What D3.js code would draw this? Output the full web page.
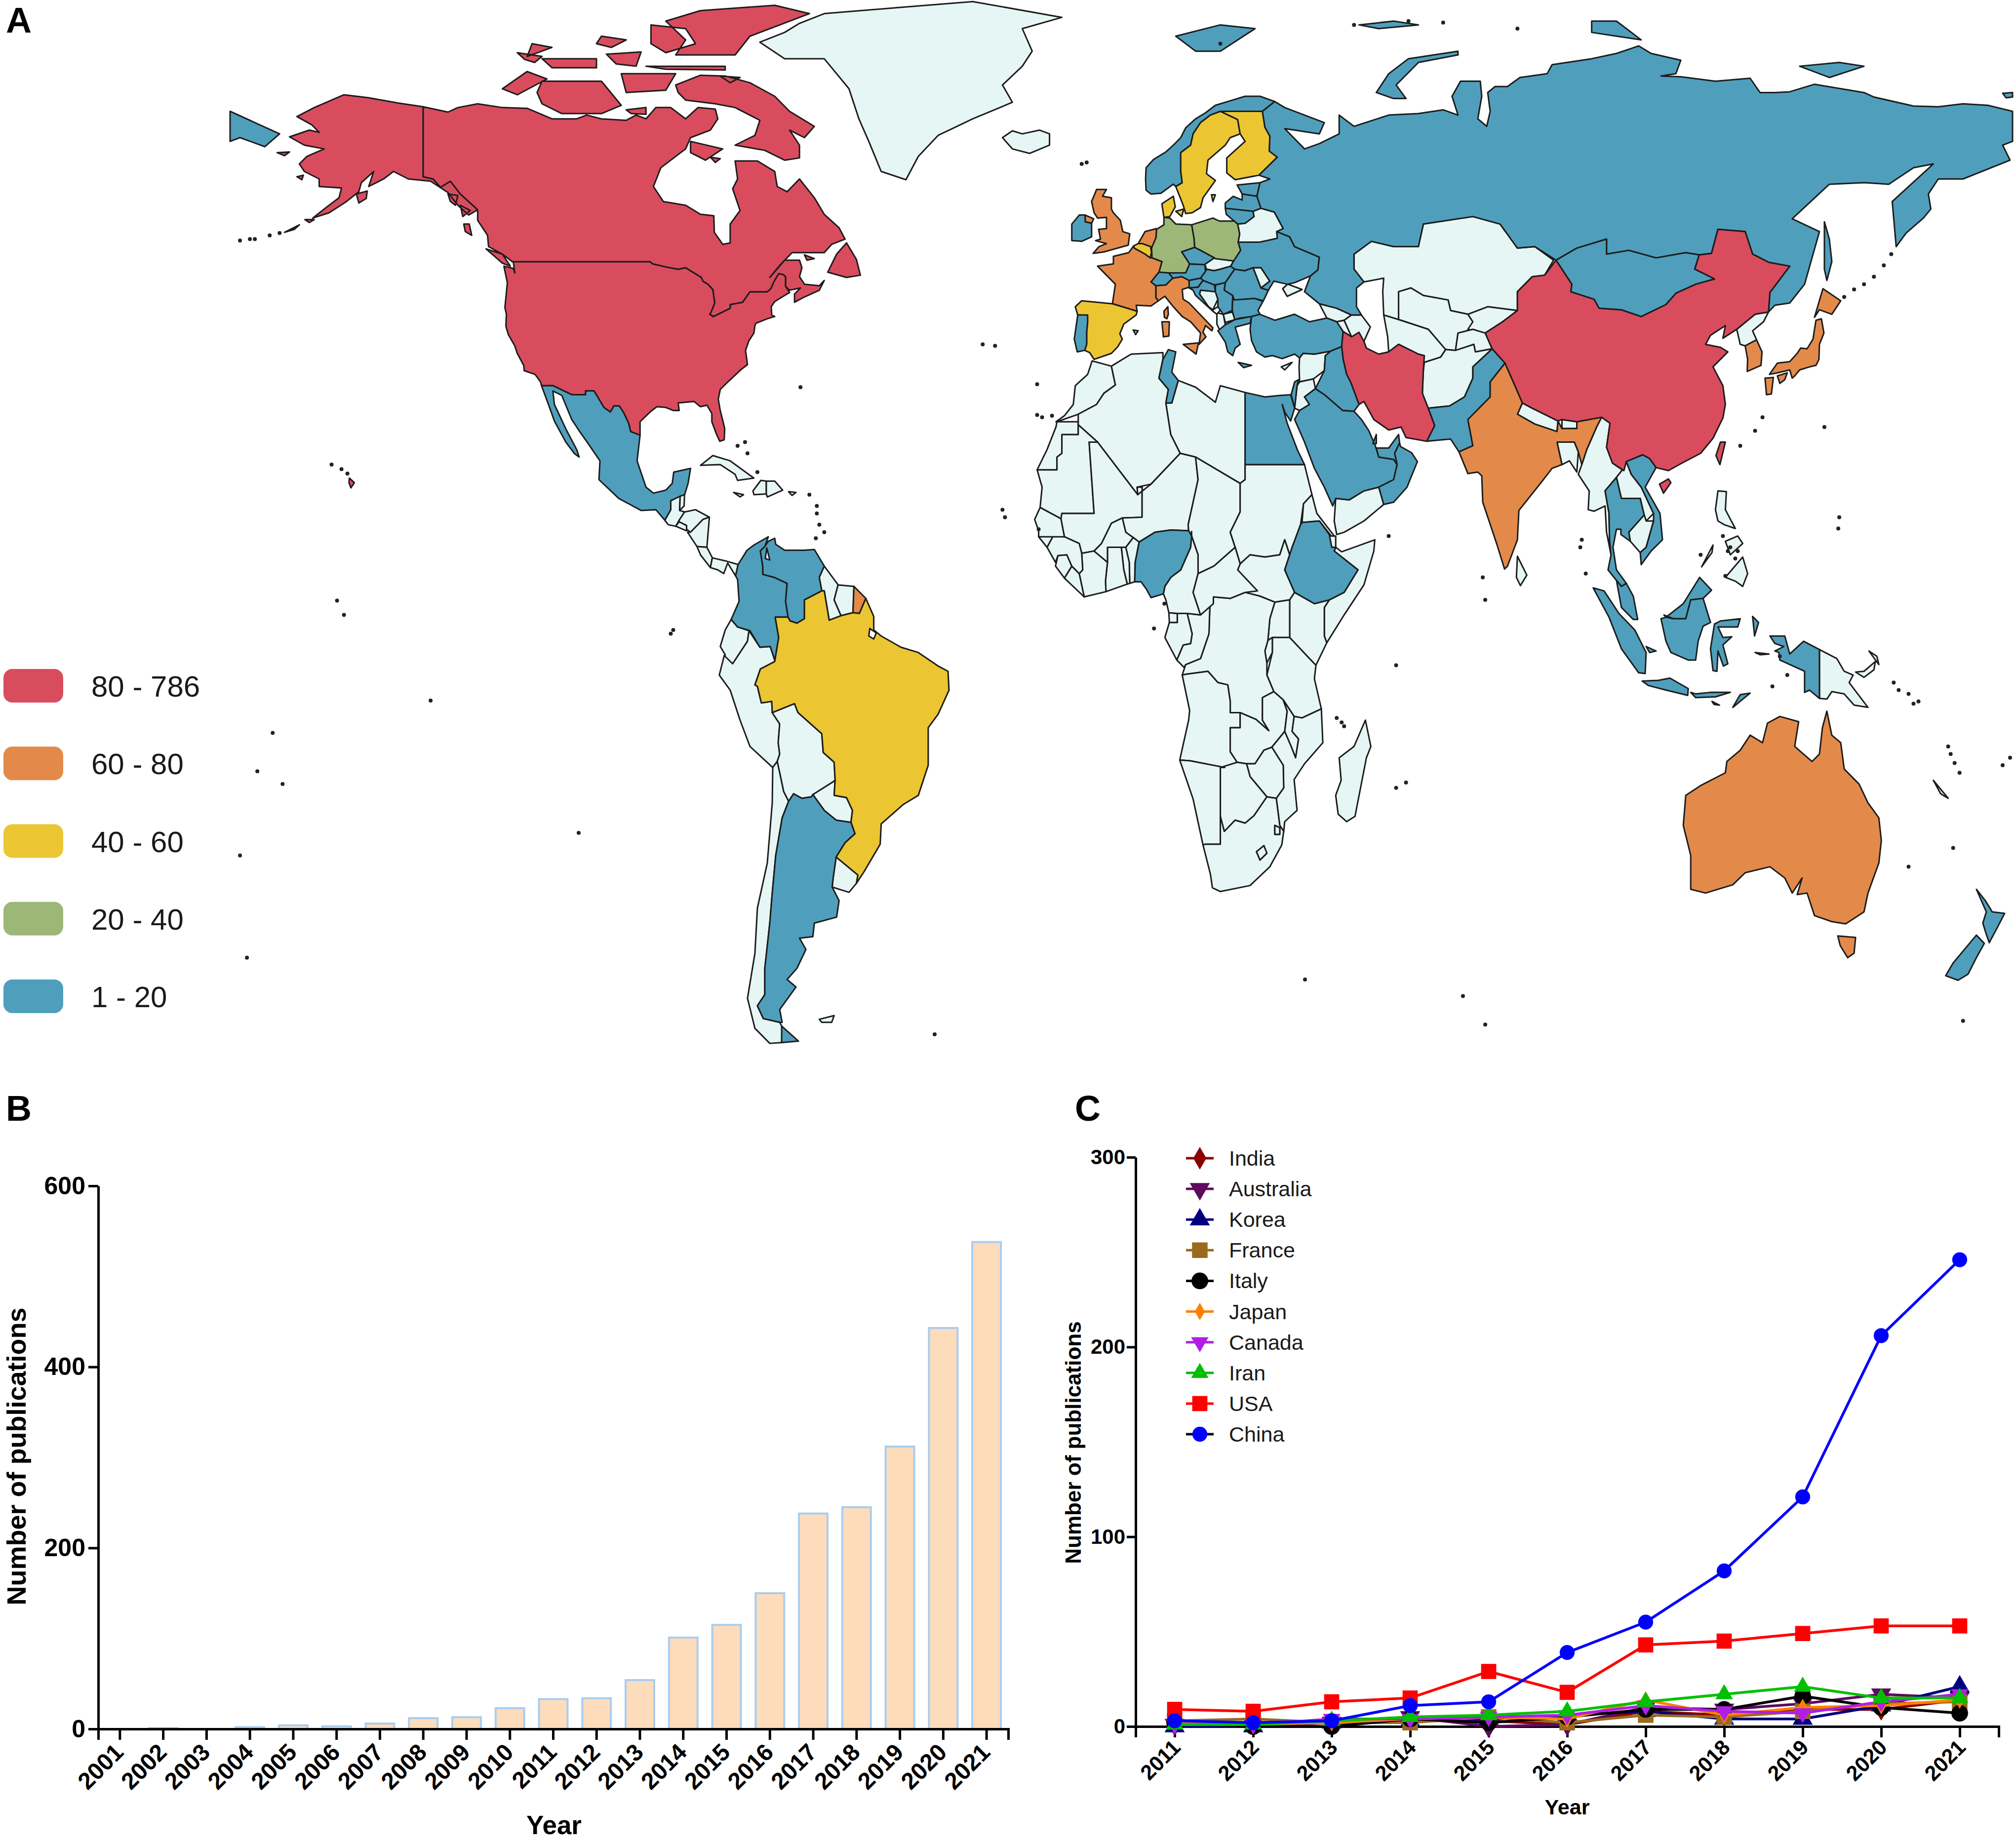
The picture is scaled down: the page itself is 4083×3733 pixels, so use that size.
<!DOCTYPE html>
<html>
<head>
<meta charset="utf-8">
<script src="https://cdnjs.cloudflare.com/ajax/libs/d3/7.8.5/d3.min.js"></script>
<style>
  html, body { margin: 0; background: #fff; }
  svg { display: block; font-family: "Liberation Sans", Arial, sans-serif; }
  .land { stroke: #1c1c1c; stroke-width: 3; stroke-linejoin: round; }
  .axis path, .axis line { stroke: #000; stroke-width: 5; }
  .axis text { font-weight: bold; fill: #000; }
</style>
</head>
<body>
<svg width="4083" height="3733"></svg>
<script>
// panel B
const barYears = d3.range(2001, 2022).map(String);
const barValues = [0, 1, 0, 2, 4, 3, 6, 12, 13, 23, 33, 34, 54, 101, 115, 150, 238, 245, 312, 443, 538];

// panel C
const lineYears = d3.range(2011, 2022).map(String);
const india = [2, 2, 2, 3, 3, 1, 8, 6, 9, 9, 14];
const australia = [1, 1, 2, 5, 0, 1, 10, 9, 12, 17, 15];
const korea = [0, 0, 2, 3, 4, 6, 8, 4, 4, 11, 21];
const france = [3, 4, 2, 2, 5, 2, 6, 5, 8, 12, 13];
const italy = [2, 0, 0, 4, 2, 5, 9, 9, 16, 10, 7];
const japan = [2, 1, 2, 4, 5, 4, 14, 6, 10, 11, 14];
const canada = [1, 1, 4, 4, 5, 6, 11, 8, 7, 13, 17];
const iran = [1, 1, 3, 5, 6, 8, 13, 17, 21, 15, 15];
const usa = [9, 8, 13, 15, 29, 18, 43, 45, 49, 53, 53];
const china = [3, 2, 3, 11, 13, 39, 55, 82, 121, 206, 246];

const seriesNames = ['India', 'Australia', 'Korea', 'France', 'Italy', 'Japan', 'Canada', 'Iran', 'USA', 'China'];
const seriesValues = [india, australia, korea, france, italy, japan, canada, iran, usa, china];
const seriesColors = ['#8b0000', '#5e0a5e', '#00007f', '#9a6a1c', '#000000', '#ff8000', '#b01ee6', '#00c000', '#ff0000', '#0000ff'];
const seriesLegendLines = ['#8b0000', '#5e0a5e', '#00007f', '#9a6a1c', '#000000', '#ff8000', '#b01ee6', '#00c000', '#ff0000', '#000000'];
const seriesSymbols = ['diamond', 'triDown', 'triUp', 'square', 'circle', 'star', 'triDown', 'triUp', 'square', 'circle'];
const seriesSizes = [0.9, 0.8, 0.8, 1, 1, 0.45, 0.6, 0.6, 0.95, 0.8];

// panel A legend
const legendLabels = ['80 - 786', '60 - 80', '40 - 60', '20 - 40', '1 - 20'];
const bandColors = ['#d94c5e', '#e38a4a', '#ebc632', '#9db778', '#4f9fbc'];
const noDataColor = '#e6f6f4';

// who falls in which band
const band80 = ['United States', 'Alaska', 'Hawaii', 'Canada', 'China', 'Iran'];
const band60 = ['United Kingdom', 'Netherlands', 'France', 'Italy', 'India', 'Japan', 'South Korea', 'Australia', 'French Guiana'];
const band40 = ['Brazil', 'Spain', 'Sweden', 'Finland', 'Denmark', 'Belgium'];
const band20 = ['Germany', 'Poland'];
const band1 = ['Russia', 'Mexico', 'Colombia', 'Venezuela', 'Argentina', 'Norway', 'Ireland', 'Portugal', 'Switzerland', 'Austria', 'Czechia', 'Hungary', 'Slovenia', 'Croatia', 'Serbia', 'Romania', 'Bulgaria', 'Greece', 'Ukraine', 'Estonia', 'Latvia', 'Lithuania', 'Turkey', 'Egypt', 'Tunisia', 'Saudi Arabia', 'Iraq', 'Oman', 'UAE', 'Qatar', 'Israel', 'Pakistan', 'Mongolia', 'Thailand', 'Vietnam', 'Malaysia', 'Indonesia', 'Nigeria', 'Ethiopia', 'New Zealand'];

const outlines = {
  'United States': ['-123,49 -95.2,49 -94.6,48.7 -92,48.3 -89.5,48 -88,48.2 -84.8,46.9 -84.5,46.4 -83.5,46 -82.5,45.3 -82.1,43.5 -82.9,42.2 -83.1,42 -82.4,41.7 -79,42.8 -79,43.3 -76.5,43.6 -75,45 -71.5,45 -70.8,45.4 -70.2,46.3 -69.2,47.4 -68.3,47.3 -67.8,47 -67.8,45.7 -67,44.9 -68.5,44.3 -70,43.7 -70.7,43 -70.6,41.9 -70,41.7 -71.5,41.4 -73.8,40.8 -74,40.5 -74.2,39.5 -75.2,38.5 -75.9,37.2 -75.5,35.3 -76.7,34.7 -78,33.9 -79.3,33.1 -81,32 -81.4,30.7 -81,29.2 -80.1,26.8 -80.2,25.3 -81.1,25.1 -81.8,26.1 -82.7,27.7 -82.7,28.8 -83.7,29.9 -85,29.7 -86.3,30.4 -88,30.3 -89.5,30.2 -89.3,29.2 -90.5,29.2 -92,29.6 -93.8,29.7 -95,29.1 -97.2,27.7 -97.2,25.9 -99.1,26.4 -99.5,27.5 -100.5,28.9 -101.4,29.8 -102.5,29.8 -103.2,29 -104.5,29.6 -106.5,31.8 -108.2,31.8 -108.2,31.3 -111,31.3 -114.8,32.5 -117.1,32.5 -117.3,33 -118.4,34 -120.6,34.5 -120.7,35.2 -122,36.8 -122.5,37.8 -123.8,39.3 -124.3,40.4 -124.2,42 -124.5,42.9 -124,46.2 -124.7,48.4 -122.8,48.1 -122.5,47.5 -122.8,49'],
  'Alaska': ['-141,69.6 -141,60.3 -139,60 -137.5,58.9 -135.5,59.7 -133.5,58 -130,55.9 -131.8,55.2 -134,56.5 -136,58.2 -139.5,59.7 -144,60 -147,61 -149,60 -152,59 -151,61 -153.5,59.5 -154,58.3 -156.5,57 -160,55.5 -163.3,54.8 -161,56 -158,57.5 -157.5,58.8 -162,59 -162,60 -165,61 -166,62 -164.5,63 -161,64 -165,64.5 -168,65.6 -164,66.5 -162,66.2 -163.5,67.2 -166.5,68.3 -163,69.5 -157,71.2 -152,70.8 -146,70.1', '-154.5,58 -152.3,58.4 -152.5,57.4 -154,56.8', '-164.9,54.6 -163,54.6 -164,54.2', '-169,52.9 -166,53.9 -167,53.3', '-136,58 -134,57.8 -134.5,56.5 -135.5,57', '-133.5,56.5 -131.5,55.8 -133,55', '-168,63.6 -170.5,63.5 -169,63.1', '-166.5,60.3 -165.2,60.5 -165.5,59.9'],
  'Hawaii': ['-155.9,20.2 -154.9,19.6 -155.6,18.9 -156,19.6'],
  'Canada': ['-141,69.6 -136,68.9 -134,69.5 -130,70 -125,69.5 -120,69.4 -115,68 -110,68 -108,68.5 -105,68 -100,67.8 -98,68.5 -96,68 -94,69.5 -91,69.5 -88,68 -85.5,69.5 -82,69.3 -81.5,68 -83,66.5 -87,65.5 -88,64 -93,61.5 -94.5,59 -92.5,57 -88,56.5 -85,55.3 -82.3,55.1 -82.2,52.9 -80.5,51.3 -79,51.5 -79,54 -77,55.8 -78.5,58.7 -77.5,60 -78,62.4 -73.5,62.4 -70,61 -69.5,59 -67.5,58.3 -65,60 -62,57.5 -60,55.3 -57,53.5 -55.8,52 -58.5,51.3 -60,50.2 -66.5,50.2 -69,48.5 -71,46.9 -68,49.2 -65,49.2 -64.5,48.2 -65,47 -64,46 -61,45.8 -60,46.5 -61,45.2 -64,44.3 -66,43.6 -66,44.7 -64.8,45.5 -67,45.2 -67.8,45.7 -67.8,47 -68.3,47.3 -69.2,47.4 -70.2,46.3 -70.8,45.4 -71.5,45 -75,45 -76.5,43.6 -79,43.3 -79,42.8 -82.4,41.7 -83.1,42 -82.9,42.2 -82.1,43.5 -82.5,45.3 -83.5,46 -84.5,46.4 -84.8,46.9 -88,48.2 -89.5,48 -92,48.3 -94.6,48.7 -95.2,49 -123,49 -125,50 -127.8,51 -128,52.5 -130,54.5 -130,55.9 -133.5,58 -135.5,59.7 -137.5,58.9 -139,60 -141,60.3',
    '-59.3,47.6 -55.5,46.9 -52.7,47.2 -53.5,49.3 -55.5,51.5 -57.5,50', '-128.3,50.7 -125,50 -123.4,48.4 -125,48.8',
    '-90,72.5 -85,73.8 -80,73.7 -75,72.8 -70,71 -67,69 -62,67 -64,65.5 -67,66.5 -65,64.5 -65,62.8 -68,62.5 -72,63.8 -78,64.5 -74,65.8 -73,67.8 -78,69.5 -82,70 -88,70.5 -89.5,71.5',
    '-117,73 -105,73 -101,69.8 -105,68.7 -113,68.7 -117,70 -118,71.5', '-125,72 -120,74.3 -116,73.3 -122,71.2',
    '-90,76.5 -78,76.5 -75,79 -63,82 -70,83.1 -85,82.4 -92,81 -88,78.5', '-96,75 -80,75 -80,74.5 -92,74.6',
    '-87,65 -80.5,64 -84,62.5 -87,63.5', '-117,76 -106,76 -106,74.8 -115,74.8', '-101,74 -90,74 -92,71.8 -100,71.5',
    '-95,80.5 -88,80 -86,78 -92,76.8 -95,78', '-105,79 -100,78.5 -103,77.5 -106,78', '-120,76.3 -115,77.5 -119,78', '-64,49.9 -62,49.4 -63.5,49.2', '-132.8,54 -131.7,54 -131.2,52.5 -132.5,53',
    '-122,76.8 -117,76.3 -118.5,75.5 -120.5,75.9', '-104,76.6 -97,76.9 -98,75 -102,75.3', '-81,73.7 -77,73.5 -79,72.8', '-100,69.2 -96,69.5 -96,68.6 -99,68.7', '-83,62.9 -81,62.7 -82,62.2'],
  'Greenland': ['-73,78.2 -68,76 -60,76 -55,72 -53,68 -51,65 -48.5,61 -43.5,59.9 -41,63 -37,65.8 -30,68 -22,70.2 -24,72.5 -20,75 -18,77 -20,80 -12,81.5 -30,83.6 -45,82.8 -60,82 -65,80.7 -68,79.5'],
  'Iceland': ['-24,65.5 -22,64 -18.5,63.4 -14.5,64.5 -14.5,66 -16.5,66.5 -20,66 -22,66.4'],
  'Mexico': ['-117.1,32.5 -114.8,32.5 -111,31.3 -108.2,31.3 -108.2,31.8 -106.5,31.8 -104.5,29.6 -103.2,29 -102.5,29.8 -101.4,29.8 -100.5,28.9 -99.5,27.5 -99.1,26.4 -97.2,25.9 -97.8,22.5 -96,19 -94.5,18.2 -92,18.6 -90.7,19.5 -90.4,21 -87,21.5 -87.5,19.5 -88.2,18 -89.1,17.8 -91,17.2 -91,16 -92.2,14.6 -94,16 -97,15.9 -101.5,17.5 -105.5,20 -105.3,22.5 -108,25.1 -109.5,26.5 -111,28 -113,31.2 -114.8,31.8 -114.5,30 -112,26.5 -110,24 -109.5,23 -110.5,23.5 -112.2,25 -114.5,27.8 -115.7,30'],
  'Guatemala': ['-92.2,14.6 -91,16 -91,17.2 -89.1,17.8 -89.2,15.9 -88.2,15.7 -89.3,14.6 -90,13.8 -91.5,14'],
  'Belize': ['-89.1,17.8 -88.2,18.4 -88.3,16.5 -89.2,15.9'],
  'El Salvador': ['-90,13.8 -89.3,14.4 -87.8,13.9 -87.8,13.2'],
  'Honduras': ['-89.3,14.6 -88.2,15.7 -86,16 -83.2,15 -84.5,14.7 -87,13 -87.8,13.4 -87.8,13.9 -89.3,14.4'],
  'Nicaragua': ['-87.6,13 -87,13 -84.5,14.7 -83.2,15 -83.7,11 -85.7,11.1'],
  'Costa Rica': ['-85.7,11.1 -83.7,11 -82.6,9.6 -83,8.3 -85,10'],
  'Panama': ['-83,8.3 -82.6,9.6 -80,9.2 -77.4,8.7 -77.9,7.2 -79.5,8.9 -80.3,7.5 -81.5,8'],
  'Cuba': ['-85,21.9 -82.5,23.2 -79,22.5 -74.2,20.2 -77.5,19.9 -78,20.7 -81,22'],
  'Haiti': ['-74.4,18.5 -72.8,19.9 -71.7,19.8 -71.7,18.1 -74.2,18'],
  'Dominican Republic': ['-71.7,19.8 -70,19.8 -68.4,18.6 -71.5,17.7 -71.7,18.1'],
  'Jamaica': ['-78.3,18.3 -76.3,18 -77,17.7'],
  'Puerto Rico': ['-67.2,18.4 -65.7,18.3 -66.5,17.9'],
  'Colombia': ['-71.3,12.4 -72,11.1 -72.9,10.5 -72.4,8.4 -72.4,7.4 -70.1,7 -67.5,6.2 -67.8,3.8 -67.3,1.7 -69.9,1.7 -69.2,-1 -70,-4.2 -69.9,-4.2 -70.9,-2.2 -73,-2.3 -75,-0.1 -77.5,0.4 -78.8,1.4 -77.2,3.8 -77.5,6.7 -77.9,7.2 -77.4,8.7 -75.6,10.6 -74.2,11.3'],
  'Venezuela': ['-72,11.1 -71.3,11.8 -70,12.2 -69.8,11.4 -68,10.6 -64,10.6 -62,10.7 -60,8.5 -61,7 -60.5,5.2 -64,4 -64,1.5 -65.5,0.9 -66.9,1.2 -67.3,1.7 -67.8,3.8 -67.5,6.2 -70.1,7 -72.4,7.4 -72.4,8.4 -72.9,10.5'],
  'Guyana': ['-60,8.5 -57.2,6 -58,4 -56.6,1.9 -59,1.3 -60,5.2 -60.5,5.2 -61,7'],
  'Suriname': ['-57.2,6 -54,5.8 -54.2,2.3 -56.6,1.9 -58,4'],
  'French Guiana': ['-54,5.8 -51.6,4.2 -52.9,2.2 -54.2,2.3'],
  'Brazil': ['-51.6,4.2 -50,1.8 -50,0 -48.5,-0.8 -44.5,-2.3 -41,-3 -37,-4.8 -35,-5.5 -34.8,-8 -37,-11.2 -39,-13 -39,-18 -41,-22 -44,-23.2 -48.5,-25.8 -48.7,-28.5 -52,-32.2 -53.5,-33.7 -53.2,-32.6 -57.6,-30.2 -55.8,-28.3 -53.8,-27.1 -54.6,-25.6 -54.3,-24 -55.5,-22.3 -58,-22 -57.8,-20 -58,-17.6 -60.2,-16.3 -60.5,-13.8 -65.3,-11 -66,-9.8 -70.5,-11 -70.6,-9.5 -72.7,-9.7 -73.5,-7.5 -74,-7.3 -72.9,-5.2 -70,-4.2 -69.2,-1 -69.9,1.7 -67.3,1.7 -66.9,1.2 -65.5,0.9 -64,1.5 -64,4 -60.5,5.2 -60,5.2 -59,1.3 -56.6,1.9 -54.2,2.3 -52.9,2.2'],
  'Ecuador': ['-78.8,1.4 -77.5,0.4 -75.2,-0.1 -75.5,-1.5 -78.5,-4.5 -80.2,-4.5 -80,-3.3 -81,-2.2 -80,0'],
  'Peru': ['-80.2,-3.4 -78.5,-4.5 -75.5,-1.5 -75.2,-0.1 -73,-2.3 -70.9,-2.2 -69.9,-4.2 -72.9,-5.2 -74,-7.3 -73.5,-7.5 -72.7,-9.7 -70.6,-9.5 -70.5,-11 -69,-12.5 -69.3,-15 -69,-16.5 -69.5,-17.5 -70.4,-18.3 -75,-15.5 -77,-12 -79,-8 -81.2,-6'],
  'Bolivia': ['-70.5,-11 -66,-9.8 -65.3,-11 -60.5,-13.8 -60.2,-16.3 -58,-17.6 -57.8,-20 -58.2,-20.2 -62.3,-21.9 -62.6,-22.2 -64.5,-22.4 -66.2,-21.8 -67.2,-22.8 -68.2,-21.5 -69,-19 -69.5,-17.5 -69,-16.5 -69.3,-15 -69,-12.5'],
  'Chile': ['-70.4,-18.3 -69.5,-17.5 -69,-19 -68.2,-21.5 -67.2,-22.8 -68.5,-25 -69.8,-30 -70.5,-35 -71,-39 -72,-45 -72,-48.5 -73.5,-50 -72.3,-51.7 -69,-52.2 -68.5,-52.8 -68.6,-54.9 -71,-55 -74,-53 -75.5,-49 -74,-43 -73.5,-37 -71.5,-31 -70.5,-23'],
  'Argentina': ['-66.2,-21.8 -64.5,-22.4 -62.6,-22.2 -62.3,-21.9 -60,-24 -57.6,-25.3 -54.6,-25.6 -53.8,-27.1 -55.8,-28.3 -57.6,-30.2 -58.2,-33 -58.4,-34.2 -57,-36 -57.5,-38.2 -62,-39 -62.3,-40.8 -65,-41 -63.7,-42.5 -65.5,-45 -67.5,-46.5 -65.7,-47.5 -69,-50.5 -68.5,-52.2 -69,-52.2 -72.3,-51.7 -73.5,-50 -72,-48.5 -72,-45 -71,-39 -70.5,-35 -69.8,-30 -68.5,-25 -67.2,-22.8', '-68.6,-52.7 -68.6,-54.9 -65.2,-54.7'],
  'Paraguay': ['-62.3,-21.9 -58.2,-20.2 -57.8,-20 -58,-22 -55.5,-22.3 -54.3,-24 -54.6,-25.6 -57.6,-25.3 -60,-24'],
  'Uruguay': ['-57.6,-30.2 -53.2,-32.6 -53.5,-33.7 -55,-34.9 -58.4,-34.2 -58.2,-33'],
  'Falklands': ['-61,-51.8 -58,-51.3 -58.5,-52.2 -60.5,-52.2'],
  'Norway': ['5,58.5 4.9,60 5,61.5 6.5,62.6 9,63.6 10.5,64.5 12,65.5 13,66.8 15,68 17,68.8 19,69.8 22,70.4 25,71 28,71 31,70.3 28.5,69 25.5,69 21,69 20,69 18,68.5 16,67.5 14.5,66 14,64.5 12,63.5 12,61 12.3,59.5 11,59 10.5,59.3 8,58.1 6,58', '11,79 20,80.5 27,80 20,77 15,77'],
  'Sweden': ['11,59 12.3,59.5 12,61 12,63.5 14,64.5 14.5,66 16,67.5 18,68.5 20,69 23.5,67.9 24,66 22,65.5 21,64.5 17.5,62.5 17.2,60.7 19,59.8 16.5,57.5 16,56.2 14.3,55.5 13,55.4 12.5,56.5', '18.2,57.9 19,57.9 18.5,57'],
  'Finland': ['21,69 25.5,69 28.5,69 29,66.9 30,65.7 29.9,63.7 31.5,62.9 27.8,60.5 23,59.9 21.3,60.8 21.3,62.8 25,65 24,66 23.5,67.9 20,69'],
  'Denmark': ['8.2,56.7 10.5,57.7 10.9,56.3 9.8,55 8.6,54.9', '11,55.7 12.6,56 12.2,55'],
  'Estonia': ['23.4,59.2 28,59.5 27.4,57.7 24.4,58'],
  'Latvia': ['21,56.8 22.6,57.7 24.4,57.2 24.4,58 27.4,57.7 28.2,56.1 26.6,55.7 21,56.1'],
  'Lithuania': ['21,56.1 26.6,55.7 26.8,55 25,54.1 23.5,54 22.8,54.4 21.2,55.3'],
  'Belarus': ['23.5,54 25,54.1 26.8,55 26.6,55.7 28.2,56.1 30.9,55.6 32.7,53.4 31.4,53 31.5,52.1 28,51.6 23.6,51.6 23.9,52.7'],
  'Poland': ['14.2,53.9 18.5,54.8 19.8,54.4 22.8,54.4 23.5,54 23.9,52.7 23.6,51.6 24.1,50.5 22.7,49.1 19,49.4 18.8,49.5 16,50.5 14.8,50.9 14.7,52'],
  'Germany': ['8.6,54.9 9.8,54.8 11,54 14.2,53.9 14.7,52 14.8,50.9 12.2,50.3 13.8,48.7 13,47.5 10.2,47.3 7.6,47.6 8.2,49 6.2,49.5 6.1,50.9 7,52.2 7.1,53.3 8.6,53.9'],
  'Netherlands': ['3.4,51.4 4.8,53 7.1,53.4 7,52.2 6.1,50.8 5.9,51 4.2,51.4'],
  'Belgium': ['2.5,51.1 3.4,51.4 4.2,51.4 5.9,51 6.1,50.2 5.8,49.5 4.8,50 2.6,50.8'],
  'France': ['2.5,51.1 2.6,50.8 4.8,50 5.8,49.5 6.2,49.5 8.2,49 7.6,47.6 6,46.3 7,45.8 7,44.2 7.5,43.8 6,43.1 3,43.2 3.2,42.4 -1.8,43.4 -1.2,46 -4.8,48.4 -1.6,48.7 -1.6,49.7 1.5,50.2', '8.6,42.4 9.4,43 9.5,42 9.2,41.4 8.7,41.6'],
  'Spain': ['-9.3,43 -8,43.8 -1.8,43.4 3.2,42.4 3,41.9 0.5,40.7 -0.3,39.4 0.2,38.7 -0.7,37.7 -2,36.8 -5.5,36 -6.4,36.9 -7.4,37.2 -7,38 -7,39.6 -6.8,41 -8.2,41.9 -8.8,41.9', '2.4,39.9 3.4,39.8 2.9,39.3'],
  'Portugal': ['-8.8,41.9 -8.2,41.9 -6.8,41.9 -6.8,41 -7,39.6 -7,38 -7.4,37.2 -8.9,37 -9.5,38.7'],
  'United Kingdom': ['-5.7,50.1 -3.5,50.3 1.4,51.2 1.7,52.7 0.3,53 -0.2,54.5 -1.6,55.5 -2,56 -2,57.5 -3.8,57.7 -3,58.6 -5,58.6 -6,57 -5.5,55.5 -4.8,54.8 -3,54.9 -3,53.4 -4.6,53.3 -4.2,52 -5.2,51.8 -3,51.4 -4.5,51', '-7.3,55.2 -5.6,54.7 -6,54.1 -7.3,54.3'],
  'Ireland': ['-10,54 -8.5,55.2 -7.3,55.2 -7.3,54.3 -6,54.1 -6,52.3 -8,51.7 -10,51.8'],
  'Switzerland': ['6,46.3 7.6,47.6 9.6,47.5 10.4,46.8 9,45.9 7,45.8'],
  'Austria': ['9.6,47.5 13,47.5 13.8,48.7 16.9,48.6 17,47.7 16,46.8 13.7,46.5 10.4,46.8'],
  'Italy': ['7,45.8 9,45.9 10.4,46.8 12.2,47 13.7,46.5 13.7,45.6 12.3,45.3 12.5,44 13.7,43.5 16,41.9 18.5,40.2 18.3,39.8 17,40.5 16.5,39.6 17.1,39 15.7,38 16,39.5 14,41 12.3,41.7 10.5,43 8.8,44.4 7.5,43.8 7,44.2', '12.5,38 15.6,38.2 15.1,36.7', '8.2,41 9.7,41 9.6,39.1 8.5,39'],
  'Czechia': ['12.2,50.3 14.8,50.9 16,50.5 18.8,49.5 17,48.7 16.9,48.6 13.8,48.7'],
  'Slovakia': ['16.9,48.6 17,48.7 18.8,49.5 19,49.4 22.7,49.1 22.1,48.4 20,48 18.7,47.8 17.2,48'],
  'Hungary': ['17,47.7 17.2,48 18.7,47.8 20,48 22.1,48.4 22.9,48 21,46.2 18.8,45.9 16.5,46.5 16,46.8'],
  'Slovenia': ['13.7,46.5 16,46.8 16.5,46.5 15.5,45.6 13.7,45.5'],
  'Croatia': ['13.7,45.5 15.5,45.6 16.5,46.5 18.8,45.9 19,45 16,45.2 15.8,44.7 17.6,43 18.5,42.4 15,44.5 14.5,45.2'],
  'Bosnia': ['15.8,44.7 16,45.2 19,45 19.5,44 18.5,42.6 17.6,43'],
  'Serbia': ['19,45.9 21,46.2 20.8,45.2 22.5,44.5 22.4,42.5 20.6,42 19.5,43 19.5,44 19,45'],
  'Romania': ['22.9,48 24.9,47.8 26.6,48.2 28.2,45.5 29.7,45.2 28.7,43.8 27,44.1 22.8,43.9 22.5,44.5 20.8,45.2 21,46.2'],
  'Bulgaria': ['22.5,44.2 22.8,43.9 27,44.1 28.6,43.7 27.6,42.5 28,42 26.3,41.7 24,41.5 22.9,41.3 22.4,42.5'],
  'Moldova': ['26.6,48.2 28.2,48.2 30,46.4 28.2,45.5'],
  'Albania': ['19.3,42.2 20.6,42 21,40.6 20,39.7 19.3,40.7'],
  'Montenegro': ['18.5,42.4 18.5,42.6 19.5,43 20.3,42.8 19.3,42'],
  'Macedonia': ['20.6,42 22.4,42.3 23,41.3 21,40.9'],
  'Greece': ['19.5,39.8 21,40.6 23,41.3 26.3,41.7 26,40.8 23,40.3 24,38 23,37.5 22.5,36.5 21.5,37 21,38.3', '23.6,35.6 26.3,35.2 24.7,34.9'],
  'Ukraine': ['22.1,48.4 22.7,49.1 24.1,50.5 23.6,51.6 28,51.6 31.5,52.1 31.4,53 34,52.3 35,51 40,49.6 39.7,47.9 38.2,47.1 35,46.2 33.6,46 33.5,46 30.8,46.4 29.7,45.2 28.2,45.5 30,46.4 28.2,48.2 26.6,48.2 24.9,47.8 22.9,48'],
  'Crimea': ['33.6,46 36.5,45.3 33.5,44.4 32.6,45.4'],
  'Russia': ['31,70.3 33,69.5 41,67.5 40,66 35,66.5 33,66.7 37,64 40,64.7 44,66 44,68.5 47,67 54,68.5 60,68.7 65,69.2 68,68.5 66.8,71 68.5,73 72.5,73 72.8,71 72,68 73.8,67 74.5,69 74,71.5 75.5,72.3 78,72.3 80.5,73.5 86,74 87,75.2 95,76 100,76.7 104.5,77.7 107,76.7 113,75.8 112,74 109,73.7 113,73.6 120,73 127,73.4 129,71.5 132,71.5 135,71.6 140,72.6 150,71.5 152,70.9 160,69.7 165,69.6 170,70 175,69.8 180,69 180,65 178,64.5 179.5,62.5 170,60 165,60 163,58 163.5,56 162,54.8 158.5,52.8 156.5,51 155.7,57 164,62 160,61.5 155,59.3 150,59.5 143,59.3 135.5,54.7 141,53 138,46 135,43.5 132,43.2 130.7,42.3 131,44.9 135,48.4 130.8,48.9 127.5,50 126,53 120.5,53.3 119.2,50.1 116.7,49.9 114,50.2 108,49.5 102.5,50.5 98,50 98,52 92,50.8 87.8,49.2 83.5,51 80,50.8 76.5,54 71,55 61,54 60,51 55,51 50.5,51.7 47,50 47,48 49,46.3 47.5,45.5 47.5,43 48.5,41.9 46.5,41.9 43.5,42.8 40,43.4 37,45 38.2,47.1 39.7,47.9 40,49.6 35,51 34,52.3 31.4,53 32.7,53.4 30.9,55.6 28.2,56.1 27.4,57.7 28,59.5 30,60 27.8,60.5 31.5,62.9 29.9,63.7 30,65.7 29,66.9 28.5,69',
    '-180,69 -175,67.5 -170,66 -173,64.3 -178,65.5 -180,65', '51.5,71.5 55,70.7 57.5,70.7 55.5,72.5 60,75.5 68,76.5 68,77 58,76 54,74', '95,79.5 100,79 105,78.5 100,81 95,81', '137,75 145,75.5 150,75 143,73.5', '142,54.3 143,52 143.5,49 142.5,46.5 142,48 142,52', '178,71.4 180,71.5 180,70.9 178.7,70.8', '48,80.5 55,81 60,80.5 52,80'],
  'Turkey': ['26,40 26.3,41.7 28,42 31,41.2 35,42 38,41 41.5,41.5 43.5,41 44.8,39.7 44.5,37.7 42.3,37.1 39,36.7 36.7,36.8 36,36.2 35,36.7 32.5,36.1 30.5,36.5 29,36.3 27.3,37 26.3,38.5'],
  'Georgia': ['40,43.4 43.5,42.8 46.5,41.9 45,41.2 43.5,41 41.5,41.5'],
  'Armenia': ['43.5,41 45,41.2 46.5,39 44.8,39.7'],
  'Azerbaijan': ['45,41.2 46.5,41.9 48.5,41.9 50.3,40.3 49,38.4 46.5,39'],
  'Iran': ['44.8,39.7 46.5,39 48,39.6 49,38.4 49.5,37.5 52,36.7 54,37 56,38 60,36.7 61.2,36.5 61,34.5 60.8,31.5 62,29.5 63.3,27.2 61.7,25.1 57.5,25.6 56.5,27 54,26.6 51,28 49,30.4 48,30 46.3,33 45.5,34 44.8,36 44.5,37.7'],
  'Iraq': ['42.3,37.1 44.5,37.7 44.8,36 45.5,34 46.3,33 48,30 47,29.1 44.7,29.2 41,31.3 39.2,32.1 41,34.5 41.2,36.5'],
  'Syria': ['36,36.2 36.7,36.8 39,36.7 42.3,37.1 41.2,36.5 41,34.5 38.8,33.4 36,33 35.9,35'],
  'Jordan': ['35.5,32.5 36,33 38.8,33.4 39.2,32.1 37,31 38,30 36,29.2 35,29.5'],
  'Israel': ['34.3,31.3 35,33 35.8,33.3 35.5,32.5 35,29.5'],
  'Saudi Arabia': ['35,28 36,29.2 38,30 37,31 39.2,32.1 41,31.3 44.7,29.2 47,29.1 48.5,28 50,26.5 51.3,24.5 52,23 55,22.7 55.7,22 55,20 52,19 49,18.5 46,17.3 43.3,17.5 42.7,16.5 41,19 39,21.5 37,25'],
  'Yemen': ['43.3,17.5 46,17.3 49,18.5 52,19 53,16.7 49,14.5 45,13 43.5,12.7 43,14.5'],
  'Oman': ['52,19 55,20 55.7,22 55.2,23.5 56.2,24.9 56.4,24.4 58.6,23.6 59.8,22.4 58.5,20.3 57.7,19 55,17 53,16.7'],
  'UAE': ['51.5,24.2 54,24.2 56,26 56.2,24.9 55.2,23.5 55.7,22 55,22.7 52,23'],
  'Qatar': ['50.8,24.8 51.5,26 51.5,24.8'],
  'Cyprus': ['32.3,35 34.5,35.6 33,34.6'],
  'Egypt': ['25,31.6 29,31 32,31.2 34.2,31.3 35,29.5 34.2,27.8 33,29 32.5,30 33.5,27.5 35.6,23.9 37,22 25,22'],
  'Kazakhstan': ['47,50 50.5,51.7 55,51 60,51 61,54 71,55 76.5,54 80,50.8 83.5,51 87.3,49.2 85.5,47.2 83,47 80,45 80,42.5 74,43 70,42 66.5,42.5 66,43.9 61,44.5 58.5,45.5 56,45 56,41.3 53,41.9 52.8,45 53,46.8 49,46.3 47,48'],
  'Uzbekistan': ['56,45 58.5,45.5 61,44.5 66,43.9 66.5,42.5 70,42 71,41 73,40.8 71,40 68,39.5 67.5,37.2 65.5,37.3 62,40 56,41.3'],
  'Turkmenistan': ['53,41.9 56,41.3 62,40 65.5,37.3 64.5,36.3 61.2,35.6 60,36.7 56,38 54,37 53.8,39'],
  'Kyrgyzstan': ['70,42 74,43 80,42.5 77,41 73.5,39.5 70,40 71,41'],
  'Tajikistan': ['68,39.5 71,40 73.5,39.5 74.9,37.4 71.5,37 71.2,38 68,37.2 67.5,37.2'],
  'Afghanistan': ['61.2,35.6 64.5,36.3 65.5,37.3 67.5,37.2 71.2,38 71.5,37 74.9,37.4 71,35 71,33.5 69.3,31 66.3,29.8 62,29.5 60.8,29.9 60.8,31.5 61,34.5'],
  'Pakistan': ['62,29.5 66.3,29.8 69.3,31 71,33.5 71,35 74.9,37.4 77.5,35.5 74.5,33 74.5,31 70,28 71,24.5 68.2,23.7 66.5,25.4 61.7,25.1 63.3,27.2'],
  'India': ['74.5,33 77.5,35.5 79.5,32.5 81,30.2 80,28.7 83.5,27.4 88,26.4 88.2,27.8 89,26.8 92,26.8 92,27.7 97,28.3 96,27 94,24 93,22 92.3,23.7 91.5,25 88,25 89,22 87,21.5 85,19.8 80.3,15.9 80,12 78,8.5 77.4,8.1 75.8,11.5 73,17 72.8,20.5 72,21 70,20.8 68.2,23.7 71,24.5 70,28 74.5,31'],
  'Bangladesh': ['88,25 91.5,25 92.3,23.7 92,21 90.5,22.5 89,22'],
  'Nepal': ['80,28.7 81,30.2 83,29.5 88.2,27.8 88,26.4 83.5,27.4'],
  'Bhutan': ['89,26.8 92,26.8 92,27.7 89,28'],
  'Sri Lanka': ['80,9.8 81.9,7.3 80.6,5.9 79.8,7'],
  'China': ['80,42.5 80,45 83,47 85.5,47.2 87.8,49.2 91,46 90.8,45 95.5,44 96.5,42.8 101,42.6 105,41.7 110,43.3 112,44.8 116,46 119.8,46.7 115.8,48 116.7,49.9 119.2,50.1 120.5,53.3 126,53 127.5,50 130.8,48.9 135,48.4 131,44.9 130.7,42.3 128,42 124.3,40 121.5,38.8 122,40.5 119,39.2 118,38 121,37.6 122.5,37 119.5,35 121.5,32.5 122,30 121.5,28.2 119.5,25.5 117,23.5 113.5,22.3 110.5,21.2 108,21.6 106.7,22.8 105.3,23.3 102,22.4 101.5,21.2 99.2,22.2 98,24.3 98.7,27.5 97,28.3 92,27.7 89,28 88.2,27.8 83,29.5 81,30.2 79.5,32.5 77.5,35.5 74.9,37.4 73.5,39.5 77,41', '108.7,19.4 110.5,20.1 111,19.6 109.5,18.2', '121,25 122,25 120.9,22 120.1,23.2'],
  'Mongolia': ['87.8,49.2 92,50.8 98,52 98,50 102.5,50.5 108,49.5 114,50.2 116.7,49.9 115.8,48 119.8,46.7 116,46 112,44.8 110,43.3 105,41.7 101,42.6 96.5,42.8 95.5,44 90.8,45 91,46'],
  'North Korea': ['124.3,40 128,42 130.7,42.3 129.7,41 127.5,39.8 128.3,38.6 126,37.8 125,38'],
  'South Korea': ['126,37.8 128.3,38.6 129.4,37 129.2,35.2 126.4,34.4 126.5,36'],
  'Japan': ['130.9,34 132.5,35.5 135,35.7 136.5,36.8 137.2,37.5 138.5,37.4 139.7,38.7 140,40 140.3,41.2 141.4,41.4 141.9,39.5 141,38 140.9,36 140.3,35.2 139,35 137,34.6 136,33.8 135.5,33.5 135,34.6 132.5,34.2', '140,41.6 141.7,45.4 145.3,43.8 143.5,42 141,42.6', '130,33.5 131.7,33.6 131.3,31.4 130.3,31.3', '132.5,33.8 134.5,34.2 134,33.3 133,32.8'],
  'Myanmar': ['92.3,20.7 93,22 94,24 96,27 97,28.3 98.7,27.5 98,24.3 99.2,22.2 101.2,21.3 100,20.3 97.7,18.5 98.5,15.5 98.6,12 98.9,10 98,13 97.7,16.5 95.5,15.8 94.3,16 94.5,18.5'],
  'Thailand': ['97.7,18.5 100,20.3 101,17.5 104.8,17.5 105.6,15.3 102.5,13 102.8,11.8 100.9,12.7 100.9,13.4 100,13.4 99.3,11 100,8 102,6.2 101,5.8 100,6.6 98.3,8 98.9,10 98.6,12 98.5,15.5'],
  'Laos': ['100,20.3 101.2,21.3 102,22.4 103,20.7 105,19 107.5,15.5 106,14.5 105.6,15.3 104.8,17.5 101,17.5'],
  'Vietnam': ['102,22.4 105.3,23.3 106.7,22.8 108,21.6 105.8,19 108.8,15.5 109.3,12 107,10.5 105,8.7 104.8,10.3 106,11 107.5,14.5 107.5,15.5 105,19 103,20.7'],
  'Cambodia': ['102.8,11.8 102.5,13 105.6,15.3 106,14.5 107.5,14.5 106,11 104.8,10.3'],
  'Malaysia': ['100,6.6 101,5.8 102,6.2 103.4,4.5 104.3,1.4 103.4,1.4 101,3', '109.6,2 111.5,1.5 114,1.5 115,4 117.5,4.2 119.2,5.3 116.8,7 113.5,3.5 110,1.7'],
  'Indonesia': ['95.3,5.6 97.5,5.2 100.5,2.2 103.7,0 106,-3 105.8,-5.8 104.5,-5.7 101,-2.5 98.5,1.7', '105.2,-6.8 108.5,-6.7 110.8,-6.4 114.5,-7.8 114.4,-8.7 110,-8 106.5,-7.4', '109,1.5 110,1.7 111.5,1.5 114,1.5 115,4 117.5,4.2 119,1 117.5,0.5 116.5,-1.5 116,-4 114.5,-4 111,-3 110,-1.5', '119.8,0.8 121,1.2 125,1.5 124.5,0.4 120.5,0.4 121.5,-1 123.3,-0.9 121.5,-2 122.5,-4.5 121.6,-4.8 120.5,-2.8 120.3,-5.5 119.5,-5.4 119,-2.5', '131,-0.8 134,-0.8 135,-3.2 137.8,-1.5 141,-2.6 141,-9.1 139,-8 138,-8.3 138,-5.5 133,-4 132.8,-3 132,-2.8 133.8,-2.2 132,-1.8', '123.5,-10.3 127,-8.4 125,-8.6', '127.5,1.8 128.7,1 127.9,-0.8', '128,-3 130.8,-3.2 129,-3.3', '115,-8.3 116,-8.5 119,-8.3 123,-8.3 120,-8.9 116,-9', '119.3,-9.5 120.8,-10 119.7,-9.9', '106,-2.2 108,-2.8 106.7,-3'],
  'Papua New Guinea': ['141,-2.6 144.5,-3.8 146,-5.5 147.8,-6 147,-7 150.8,-10.3 148,-10 146,-8.5 143.5,-8.2 142.5,-9.2 141,-9.1', '148.3,-5.6 150,-5.5 152.3,-4.2 152,-5.3 150,-6.3', '151,-2.8 153,-4.6 152.6,-3.5'],
  'Philippines': ['120.5,18.5 122.2,18.4 122,16 124,13.5 121.8,14 120.5,14.5 120,16', '122,7 125.5,9.7 126.5,7.5 125.5,5.8 124,6.5', '117.2,8.4 119.5,11.3 119.3,10.3', '122,11.8 123,10 125.5,11.5 124.5,12.5'],
  'Australia': ['114,-22 113.5,-26 115,-30 115,-34.5 118,-35 123.5,-33.9 126,-32.3 131,-31.5 134,-33 135.5,-35 137.5,-33 136.5,-35.2 138.5,-35 140,-38 143.5,-38.8 146.3,-39.1 150,-37.5 150.8,-35 153,-31 153.5,-28 153,-25 150.8,-23 149,-20.5 146,-18.5 145.3,-15 143.5,-14 142.5,-10.8 141.6,-13 141,-16.5 139.5,-17.5 136,-15.5 136.8,-12.2 133,-11.5 130.5,-12.4 129.5,-15 127,-14 125,-16 122.3,-17.5 122,-19 117,-20.7', '144.7,-40.7 148.3,-40.9 148,-43 146.7,-43.6 145.2,-42'],
  'New Zealand': ['172.7,-34.5 174.5,-36 175.9,-37.5 178.4,-37.7 177,-39.5 175.3,-41.6 174.7,-40.5 174,-39 174.7,-37.5', '172.7,-40.6 174.3,-41.7 172.7,-43.6 171,-45.8 169,-46.6 166.5,-46 168,-44.3'],
  'New Caledonia': ['164,-20 167,-22.4 165.5,-21.8'],
  'Madagascar': ['49.3,-12 50.4,-15.5 49.5,-17 47.2,-24.8 45.5,-25.5 43.8,-24.5 43.3,-22 44.4,-20 44,-17 47,-15.5'],
  'Morocco': ['-5.9,35.8 -2,35.1 -1.2,32.6 -3.5,31.5 -5,30 -8.7,28.7 -13,27.7 -13.2,27.7 -11.5,28.5 -9.7,30 -9.3,32.5 -6.8,34'],
  'Western Sahara': ['-13,27.7 -8.7,27.7 -8.7,26 -12,26 -12,23.5 -13,23 -13,21.3 -17,21.3 -15,24 -13.2,27'],
  'Algeria': ['-2,35.1 2,36.7 8.4,36.9 8.4,36 7.6,33.5 9.5,32 9,30.2 10,26 11.9,23.5 6,19.4 3.2,19 3.3,18 -4.8,25 -8.7,27.3 -8.7,28.7 -5,30 -3.5,31.5 -1.2,32.6'],
  'Tunisia': ['9.5,37.3 11,37 10.2,34.3 11.5,33.2 10.2,30.2 9,30.2 9.5,32 7.6,33.5 8.4,36'],
  'Libya': ['9,30.2 10.2,30.2 11.5,33.2 15,32.3 19,30.3 20,32.5 25,31.6 25,20 24,19.5 15,23 11.9,23.5 10,26'],
  'Mauritania': ['-17,21.3 -13,21.3 -13,23 -12,23.5 -12,26 -8.7,26 -8.7,27.3 -4.8,25 -6.5,25 -5.5,15.5 -9.3,15.5 -12,15.5 -12.2,14.8 -16.4,16.3 -16,19'],
  'Mali': ['-4.8,25 3.3,18 3.2,19 4.2,19 4.2,15 0.2,14.9 -2,14.2 -4,11.5 -5.5,10.5 -8,10.2 -8.5,11.5 -11.5,12.4 -12.2,14.8 -12,15.5 -9.3,15.5 -5.5,15.5 -6.5,25'],
  'Niger': ['3.3,18 6,19.4 11.9,23.5 15,23 15.5,20 13.5,14 13.6,13.2 10,13.3 6.8,13 3.6,11.7 2.4,12.3 0.9,13 0.2,14.9 4.2,15 4.2,19 3.2,19'],
  'Chad': ['15,23 24,19.5 24,15.7 22,13 23,11 18.7,8.5 15.5,7.5 15.5,10 14.2,12.5 13.6,13.2 13.5,14 15.5,20'],
  'Sudan': ['24,19.5 25,20 25,22 37,22 38.5,18 36.8,16.8 36.2,14 34.5,11 34,10 33,12 32,10 29,9.7 26,10 24,8.8 23,11 22,13 24,15.7'],
  'South Sudan': ['24,8.8 26,10 29,9.7 32,10 33,12 34,10 33,8 35,5 34,4 31,3.7 28,4.5 25,5 23.5,8'],
  'Eritrea': ['36.8,16.8 38.5,18 39.5,15.5 43,12.5 42.4,12.5 40,14.5 36.5,14.3'],
  'Djibouti': ['42,12.5 43.3,12.5 43.3,11 42.5,11'],
  'Ethiopia': ['36.2,14 36.5,14.3 40,14.5 42,12.7 42.5,11 43.3,11 43,10.5 47.8,8 45,5 42,4 39,3.5 35,5 33,8 34,10 34.5,11'],
  'Somalia': ['43.3,11 44.5,10.4 51.2,12 51,10.5 49,6 45,2 41.5,-1.7 41,-0.8 41,3 42,4 45,5 47.8,8 43,10.5'],
  'Kenya': ['34,4 35,5 39,3.5 42,4 41,3 41,-0.8 41.5,-1.7 39.3,-4.7 37.7,-3.6 34,-1 34,1'],
  'Uganda': ['31,3.7 34,4 34,1 34,-1 30.5,-1 29.6,-1.4 30,1.5'],
  'Tanzania': ['30.5,-1 34,-1 37.7,-3.6 39.3,-4.7 39,-6.5 40.4,-10.5 36.5,-11.7 34.9,-11.5 32.7,-9.3 30.8,-8.2 29.4,-6 30.5,-3'],
  'Rwanda': ['29.6,-1.4 30.5,-1 30.5,-3 29.4,-4.4 29,-2.8'],
  'DR Congo': ['12.3,-6 13,-4.6 16,-3.8 17.7,-0.5 17.9,3.5 18.6,4.4 22,4.2 25,5 28,4.5 31,3.7 30,1.5 29.6,-1.4 29,-2.8 29.4,-4.4 29.4,-6 30.8,-8.2 28.5,-9 28.5,-12 29.8,-13.4 27.2,-11.9 24,-11 22,-11 22,-9.5 21.5,-7.3 19.5,-7 17.5,-5.5 13,-5.9'],
  'Congo': ['11.2,-4 12.7,-5 13,-4.6 16,-3.8 17.7,-0.5 17.9,3.5 16,2 13.3,2.2 14.3,-0.5 14,-1.8 12.5,-2'],
  'Gabon': ['9.7,1 11.3,1 11.3,2.2 13.3,2.2 14.3,-0.5 14,-1.8 12.5,-2 11.2,-4 8.8,-1'],
  'Equatorial Guinea': ['9.6,2.3 11.3,2.2 11.3,1 9.7,1'],
  'Cameroon': ['8.5,4.8 9,4 9.6,2.3 11.3,2.2 13.3,2.2 16,2 14.5,5 15.5,7.5 15.5,10 14.2,12.5 14.2,13.1 14,11 12,8 10,7 8.8,5.8'],
  'Central African Republic': ['14.5,5 16,2 18.6,3.5 18.6,4.4 22,4.2 25,5 27.5,5.2 23.5,8 24,8.8 23,11 18.7,8.5 15.5,7.5'],
  'Nigeria': ['2.7,6.4 2.8,9 3.6,11.7 6.8,13 10,13.3 13.6,13.2 14.2,12.5 14,11 12,8 10,7 8.8,5.8 8.5,4.8 6,4.3 5,5.5 4,6.4'],
  'Benin': ['1.7,6.2 2.7,6.4 2.8,9 3.6,11.7 2.4,12.3 0.9,11 1.6,9'],
  'Togo': ['1.2,6.1 1.7,6.2 1.6,9 0.9,11 0,11 0.5,8'],
  'Ghana': ['-3.1,5.1 1.2,6.1 0.5,8 0,11 -2.8,11 -2.8,9 -3.2,6.5'],
  'Ivory Coast': ['-7.5,4.4 -3.1,5.1 -3.2,6.5 -2.8,9 -5.5,10.5 -8,10.2 -7.8,8 -8.5,7.5'],
  'Burkina Faso': ['-5.5,10.5 -2.8,9 -2.8,11 0,11 0.9,11 2.4,12.3 0.9,13 0.2,14.9 -2,14.2 -4,11.5'],
  'Liberia': ['-11.5,6.9 -7.5,4.4 -8.5,7.5 -10,8.5'],
  'Sierra Leone': ['-13.3,8.5 -11.5,6.9 -10,8.5 -11,10 -12.8,9.9'],
  'Guinea': ['-15,11 -13.3,9 -12.8,9.9 -11,10 -10,8.5 -8.5,7.5 -7.8,8 -8,10.2 -8.5,11.5 -11.5,12.4 -13.7,12.6'],
  'Guinea-Bissau': ['-16.7,12.4 -13.7,12.6 -15,11'],
  'Senegal': ['-17.5,14.7 -16.4,16.3 -12.2,14.8 -11.5,12.4 -16.7,12.4 -16.7,13.2'],
  'Angola': ['12.3,-6 13,-5.9 17.5,-5.5 19.5,-7 21.5,-7.3 22,-9.5 22,-11 24,-11 24,-13 22,-13 22,-16.2 23.4,-17.6 20.9,-18.3 13.9,-17.4 11.8,-17.3 13.6,-12 13.8,-10.7'],
  'Zambia': ['22,-13 24,-13 24,-11 27.2,-11.9 29.8,-13.4 28.5,-12 28.5,-9 30.8,-8.2 32.7,-9.3 33.5,-10.8 33,-13.5 30.4,-15.6 28.8,-16 27,-17.8 25.3,-17.8 23.4,-17.6 22,-16.2'],
  'Malawi': ['32.7,-9.3 34.9,-11.5 34.5,-13.5 35.8,-14.5 35.2,-17 34.3,-15.5 33,-13.5 33.5,-10.8'],
  'Mozambique': ['40.4,-10.5 40.7,-15 37,-17.8 34.9,-19.9 35.5,-24 33,-25.5 32.8,-26.8 32,-26 31.3,-22.4 32.8,-21 32.7,-18 30.4,-15.6 33,-13.5 34.3,-15.5 35.2,-17 35.8,-14.5 34.5,-13.5 34.9,-11.5 36.5,-11.7'],
  'Zimbabwe': ['25.3,-17.8 27,-17.8 28.8,-16 30.4,-15.6 32.7,-18 32.8,-21 31.3,-22.4 29.4,-22.2 26,-19.5'],
  'Botswana': ['20,-18.3 23.4,-17.6 25.3,-17.8 26,-19.5 29.4,-22.2 26.8,-24.7 25,-25.7 23,-25.3 20.8,-26.8 20,-24.8 20,-22'],
  'Namibia': ['11.8,-17.3 13.9,-17.4 20.9,-18.3 20,-18.3 20,-22 20,-28.5 17,-28.5 16.5,-28.6 14.5,-22.5'],
  'South Africa': ['16.5,-28.6 17,-28.5 20,-28.5 20,-24.8 20.8,-26.8 23,-25.3 25,-25.7 26.8,-24.7 29.4,-22.2 31.3,-22.4 32,-26 32.8,-26.8 32.4,-28.6 30,-31.5 26,-34 20,-34.8 18.4,-34.3 18,-32.5'],
  'Lesotho': ['27.3,-29.5 28.8,-28.7 29.4,-29.7 28,-30.6'],
  'Swaziland': ['31,-26 32,-26.3 32,-27.2 31,-27.2']
};

// open water inside the land, and the tiny islands
const lakes = ['-71.6,10.9 -71,9.3 -71.9,9.5', '-50.8,0.2 -49.5,-0.4 -50,-1.2 -51,-0.8'];
const specks = [[-158.4, 3.9], [-157, 2], [-139.5, -9.4], [-171.4, -13.7], [-174.5, -18.8], [-169.4, -20.5], [-176.6, -43.6], [-109.6, -27], [37.1, -46.5], [69, -48.7], [73.5, -52.5], [-37.7, -53.8], [-28, 38], [-25.5, 37.8], [-16, 28.3], [-14, 28.5], [-17, 28.6], [-17, 32.7], [-24, 16], [-23.5, 15], [-64.8, 32.3], [57.5, -20.3], [55.5, -21], [43.5, -11.7], [44.5, -12.3], [45, -12.8], [55.5, -4.7], [6.6, 0.2], [8.7, 3.5], [73.5, 4], [73, 7], [93, 12], [92.7, 11], [93.8, 7.5], [54, 12.5], [128, 26.5], [129.5, 28.3], [125, 24.5], [142, 27], [145, 15], [144.8, 13.5], [146, 44.3], [148, 45.3], [150, 46], [152, 47], [154, 48.5], [155.5, 50], [157, -8], [159, -8.5], [161, -9.5], [160, -9.8], [156, -7], [167, -15.5], [167.5, -16.5], [168.3, -17.7], [169.3, -19], [178, -18], [179.5, -17], [-170, 52.8], [-172, 52.5], [-175, 52], [-178, 51.8], [-176, 52], [-157.5, 21.4], [-156.3, 20.8], [-159.5, 22], [-91, -0.5], [-90.5, 0], [-61, 14], [-61.5, 15.5], [-61.7, 12.2], [-61.5, 16.5], [-63, 18], [-60, 13], [-77.5, 24.5], [-76, 25], [-75.5, 23.5], [-73.5, 21], [-16.7, 13.4], [47, 80.5], [58, 81], [65, 80.8], [80, 80], [20, 78], [-8, 62], [-7, 62.2], [133, -3.5], [134.5, -6], [131.5, -7.5], [117, 10], [122, 7.2], [124, 9.5], [123, 11], [121.5, 12.5], [122.5, 10.5], [124.5, 10.5], [168, -29], [-178, -30], [170, -52], [159, -31.5]];

const panelLabels = ['A', 'B', 'C'];
const axisTitleY = 'Number of publications';
const axisTitleX = 'Year';

const svg = d3.select('svg');

// ---------- A: the map. Plain lon/lat grid, stretched in latitude like the picture
const lonScale = d3.scaleLinear().domain([-180, 180]).range([466, 4076]);
const latScale = d3.scaleLinear().domain([0, 80]).range([1276, 58]);
const mapPath = d3.geoPath(d3.geoTransform({
  point(lon, lat) { this.stream.point(lonScale(lon), latScale(lat)); }
}));
// geoPath drops the last point of a ring, so close them
const ringToCoords = s => {
  const pts = s.split(' ').map(p => p.split(',').map(Number));
  pts.push(pts[0]);
  return pts;
};
const shapeOf = name => ({
  type: 'MultiPolygon',
  coordinates: outlines[name].map(r => [ringToCoords(r)])
});

const colored = [[band1, bandColors[4]], [band20, bandColors[3]], [band40, bandColors[2]], [band60, bandColors[1]], [band80, bandColors[0]]];
const colorOf = new Map();
colored.forEach(([names, c]) => names.forEach(n => colorOf.set(n, c)));
// pale ones first so the coloured ones sit on top
const names = Object.keys(outlines);
const drawOrder = names.filter(n => !colorOf.has(n)).concat(names.filter(n => colorOf.has(n)));
drawOrder.push('Lesotho', 'Swaziland', 'Crimea');

const mapG = svg.append('g');
mapG.selectAll('path.land').data(drawOrder).join('path')
  .attr('class', 'land')
  .attr('d', n => mapPath(shapeOf(n)))
  .attr('fill', n => colorOf.get(n) || noDataColor);
mapG.selectAll('path.lake').data(lakes).join('path')
  .attr('class', 'land lake')
  .attr('d', r => mapPath({ type: 'Polygon', coordinates: [ringToCoords(r)] }))
  .attr('fill', '#fff');
mapG.selectAll('circle.speck').data(specks).join('circle')
  .attr('class', 'speck')
  .attr('cx', d => lonScale(d[0]))
  .attr('cy', d => latScale(d[1]))
  .attr('r', 4)
  .attr('fill', '#222');

// legend
const legendY = d3.scalePoint().domain(legendLabels).range([1389, 2018]);
const legendG = svg.append('g');
legendG.selectAll('rect').data(legendLabels).join('rect')
  .attr('x', 7).attr('width', 121)
  .attr('y', d => legendY(d) - 34).attr('height', 68)
  .attr('rx', 18)
  .attr('fill', (d, i) => bandColors[i]);
legendG.selectAll('text').data(legendLabels).join('text')
  .attr('x', 185)
  .attr('y', d => legendY(d) + 22)
  .attr('font-size', 60)
  .attr('fill', '#1a1a1a')
  .text(d => d);

// panel letters
const letterX = [12, 12, 2177];
const letterY = [66, 2270, 2270];
svg.selectAll('text.letter').data(panelLabels).join('text')
  .attr('class', 'letter')
  .attr('x', (d, i) => letterX[i])
  .attr('y', (d, i) => letterY[i])
  .attr('font-size', 72)
  .attr('font-weight', 'bold')
  .text(d => d);

// ---------- B: bars
const xBar = d3.scaleBand().domain(barYears).range([199, 2042]).paddingInner(0.34).paddingOuter(0.17);
const yBar = d3.scaleLinear().domain([0, 600]).range([3502, 2402]);

const barsG = svg.append('g');
barsG.selectAll('rect').data(barValues).join('rect')
  .attr('x', (d, i) => xBar(barYears[i]))
  .attr('width', xBar.bandwidth())
  .attr('y', d => yBar(d))
  .attr('height', d => yBar(0) - yBar(d))
  .attr('fill', '#fddcbb')
  .attr('stroke', '#a9cdf0')
  .attr('stroke-width', 4);

const xBarAxis = svg.append('g').attr('class', 'axis')
  .attr('transform', `translate(0,${yBar(0)})`)
  .call(d3.axisBottom(xBar).tickSizeOuter(0).tickSize(22));
xBarAxis.selectAll('text')
  .attr('font-size', 48)
  .attr('text-anchor', 'end')
  .attr('x', 0).attr('y', 0).attr('dy', 0)
  .attr('transform', 'translate(10,50) rotate(-45)');

const yBarAxis = svg.append('g').attr('class', 'axis')
  .attr('transform', 'translate(199,0)')
  .call(d3.axisLeft(yBar).tickValues([0, 200, 400, 600]).tickSize(20).tickSizeOuter(0).tickPadding(6));
yBarAxis.selectAll('text').attr('font-size', 50);

svg.append('text')
  .attr('x', 1122).attr('y', 3715)
  .attr('text-anchor', 'middle').attr('font-weight', 'bold').attr('font-size', 53)
  .text(axisTitleX);
svg.append('text')
  .attr('transform', 'translate(52,2950) rotate(-90)')
  .attr('text-anchor', 'middle').attr('font-weight', 'bold').attr('font-size', 54)
  .text(axisTitleY);

// ---------- C: lines
const xLine = d3.scalePoint().domain(lineYears).range([2300, 4048]).padding(0.497);
const yLine = d3.scaleLinear().domain([0, 300]).range([3497, 2344]);
const markerBase = 900;
const symbolPath = (kind, k) => {
  const s = markerBase * k;
  if (kind === 'circle') return d3.symbol(d3.symbolCircle, s)();
  if (kind === 'square') return d3.symbol(d3.symbolSquare, s * 1.1)();
  if (kind === 'diamond') return d3.symbol(d3.symbolDiamond, s * 0.75)();
  if (kind === 'star') return d3.symbol(d3.symbolDiamond, s * 0.9)();
  return d3.symbol(d3.symbolTriangle, s)();
};
const lineGen = d3.line().x((d, i) => xLine(lineYears[i])).y(d => yLine(d));

const xLineAxis = svg.append('g').attr('class', 'axis')
  .attr('transform', `translate(0,${yLine(0)})`)
  .call(d3.axisBottom(xLine).tickSizeOuter(0).tickSize(22));
xLineAxis.selectAll('text')
  .attr('font-size', 43)
  .attr('text-anchor', 'end')
  .attr('x', 0).attr('y', 0).attr('dy', 0)
  .attr('transform', 'translate(14,45) rotate(-45)');

const yLineAxis = svg.append('g').attr('class', 'axis')
  .attr('transform', 'translate(2300,0)')
  .call(d3.axisLeft(yLine).tickValues([0, 100, 200, 300]).tickSize(18).tickSizeOuter(0).tickPadding(3));
yLineAxis.selectAll('text').attr('font-size', 42);

svg.append('text')
  .attr('x', 3174).attr('y', 3675)
  .attr('text-anchor', 'middle').attr('font-weight', 'bold').attr('font-size', 43)
  .text(axisTitleX);
svg.append('text')
  .attr('transform', 'translate(2189,2922) rotate(-90)')
  .attr('text-anchor', 'middle').attr('font-weight', 'bold').attr('font-size', 44)
  .text(axisTitleY);

seriesNames.forEach((name, si) => {
  const g = svg.append('g');
  g.append('path')
    .attr('d', lineGen(seriesValues[si]))
    .attr('fill', 'none')
    .attr('stroke', seriesColors[si])
    .attr('stroke-width', 5.5);
  g.selectAll('path.mark').data(seriesValues[si]).join('path')
    .attr('class', 'mark')
    .attr('d', symbolPath(seriesSymbols[si], seriesSizes[si]))
    .attr('transform', (d, i) => `translate(${xLine(lineYears[i])},${yLine(d)})` + (seriesSymbols[si] === 'triDown' ? ' rotate(180)' : ''))
    .attr('fill', seriesColors[si]);
});

// legend of C
const legendLineY = d3.scalePoint().domain(seriesNames).range([2346, 2905]);
const lineLegend = svg.append('g');
seriesNames.forEach((name, si) => {
  const y = legendLineY(name);
  lineLegend.append('line')
    .attr('x1', 2402).attr('x2', 2458).attr('y1', y).attr('y2', y)
    .attr('stroke', seriesLegendLines[si]).attr('stroke-width', 5);
  lineLegend.append('path')
    .attr('d', symbolPath(seriesSymbols[si], seriesSizes[si]))
    .attr('transform', `translate(2430,${y})` + (seriesSymbols[si] === 'triDown' ? ' rotate(180)' : ''))
    .attr('fill', seriesColors[si]);
  lineLegend.append('text')
    .attr('x', 2489).attr('y', y + 15)
    .attr('font-size', 43)
    .attr('fill', '#1a1a1a')
    .text(name);
});
</script>
</body>
</html>
